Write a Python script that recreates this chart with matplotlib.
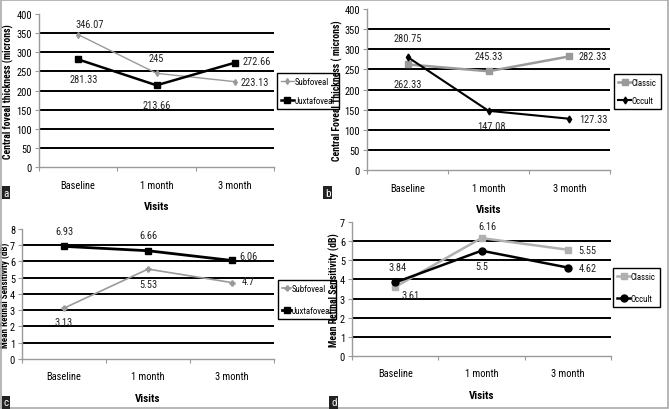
import matplotlib.pyplot as plt
from matplotlib import font_manager
from matplotlib.patches import Rectangle

# the reference uses an Arial Narrow-like face; take a narrow font (with a bold cut) if installed
fonts = font_manager.fontManager.ttflist
families = {}
for f in fonts:
    if 'Narrow' in f.name or 'Condensed' in f.name:
        families.setdefault(f.name, set()).add(str(f.weight))
preferred = ['Liberation Sans Narrow', 'Roboto Condensed', 'Open Sans Condensed', 'DejaVu Sans Condensed']
narrow = None
for name in preferred + sorted(families):
    w = families.get(name)
    if w and ('bold' in w or '700' in w):
        narrow = name
        break
if narrow is None and families:
    narrow = sorted(families)[0]

if narrow:
    plt.rcParams['font.family'] = [narrow, 'DejaVu Sans']
    FS, LFS, YFS = 7.5, 6.3, 7
else:
    plt.rcParams['font.family'] = ['Liberation Sans', 'DejaVu Sans']
    FS, LFS, YFS = 6.8, 5.4, 5.6

visits = ['Baseline', '1 month', '3 month']

# a: central foveal thickness, subfoveal vs juxtafoveal
a_sub = [346.07, 245, 223.13]
a_jux = [281.33, 213.66, 272.66]
# b: central foveal thickness, classic vs occult
b_classic = [262.33, 245.33, 282.33]
b_occult = [280.75, 147.08, 127.33]
# c: mean retinal sensitivity, subfoveal vs juxtafoveal
c_sub = [3.13, 5.53, 4.7]
c_jux = [6.93, 6.66, 6.06]
# d: mean retinal sensitivity, classic vs occult
d_classic = [3.61, 6.16, 5.55]
d_occult = [3.84, 5.5, 4.62]

GRAY = '#9a9a9a'

fig = plt.figure(figsize=(6.69, 4.10), dpi=100)


def setup(ax, ymax, step, ylabel, yfs=YFS, pad=2):
    ax.set_xlim(-0.5, 2.5)
    ax.set_ylim(0, ymax)
    ticks = list(range(0, ymax + 1, step))
    ax.set_yticks(ticks)
    for t in ticks[1:-1]:
        ax.axhline(t, color='black', lw=1.4, zorder=1)
    ax.set_xticks([-0.5, 0.5, 1.5, 2.5], minor=False)
    ax.set_xticklabels([])
    ax.set_xticks([0, 1, 2], minor=True)
    ax.set_xticklabels(visits, minor=True, fontsize=FS)
    ax.tick_params(axis='x', which='minor', length=0, pad=9)
    ax.tick_params(axis='x', which='major', length=3, color=GRAY)
    ax.tick_params(axis='y', labelsize=FS, length=3, color=GRAY, pad=2)
    for s in ['top', 'right']:
        ax.spines[s].set_visible(False)
    for s in ['left', 'bottom']:
        ax.spines[s].set_color(GRAY)
        ax.spines[s].set_linewidth(1.0)
    ax.set_xlabel('Visits', fontsize=FS + 0.5, fontweight='bold', labelpad=8)
    ax.set_ylabel(ylabel, fontsize=yfs, fontweight='bold', labelpad=pad)


def labels(ax, vals, offsets):
    for i, (v, (dx, dy)) in enumerate(zip(vals, offsets)):
        ax.annotate(f'{v:g}', (i, v), xytext=(dx, dy), textcoords='offset points',
                    ha='center', va='center', fontsize=FS, color='#222222')


def legend(ax, x, y, spacing, hl):
    ax.legend(loc='upper left', bbox_to_anchor=(x, y), bbox_transform=fig.transFigure,
              fontsize=LFS, fancybox=False, edgecolor='black', framealpha=1, handlelength=hl,
              borderpad=0.45, labelspacing=spacing, handletextpad=0.1, borderaxespad=0)


# panel a
ax = fig.add_axes([0.0583, 0.5902, 0.3513, 0.3732])
setup(ax, 400, 50, 'Central foveal thickness (microns)')
ax.plot(range(3), a_sub, color=GRAY, lw=1.0, marker='d', ms=3, label='Subfoveal', zorder=3)
ax.plot(range(3), a_jux, color='black', lw=1.8, marker='s', ms=4, label='Juxtafoveal', zorder=4)
labels(ax, a_sub, [(8, 8), (0, 11), (14, 0)])
labels(ax, a_jux, [(4, -14), (0, -14), (16, 1)])
legend(ax, 0.4140, 0.8195, 1.2, 1.5)

# panel b
ax = fig.add_axes([0.5486, 0.5829, 0.3632, 0.3927])
setup(ax, 400, 50, 'Central Foveal Thickness ( microns)', pad=1)
ax.plot(range(3), b_classic, color=GRAY, lw=1.8, marker='s', ms=4.5, label='Classic', zorder=3)
ax.plot(range(3), b_occult, color='black', lw=1.5, marker='d', ms=3.5, label='Occult', zorder=4)
labels(ax, b_classic, [(0, -14), (0, 11), (17, 0)])
labels(ax, b_occult, [(0, 14), (2, -11), (17, 0)])
legend(ax, 0.9178, 0.8171, 1.0, 1.5)

# panel c
ax = fig.add_axes([0.0329, 0.1220, 0.3767, 0.3171])
setup(ax, 8, 1, 'Mean Retinal Sensitivity (dB)', yfs=YFS - 0.5, pad=0)
ax.plot(range(3), c_sub, color=GRAY, lw=1.2, marker='P', ms=3.5, label='Subfoveal', zorder=3)
ax.plot(range(3), c_jux, color='black', lw=2.0, marker='s', ms=4.5, label='Juxtafoveal', zorder=4)
labels(ax, c_sub, [(0, -10), (0, -11), (12, 1)])
labels(ax, c_jux, [(0, 11), (0, 11), (12, 3)])
legend(ax, 0.4160, 0.3146, 1.5, 1.0)

# panel d
ax = fig.add_axes([0.5262, 0.1293, 0.3871, 0.3268])
setup(ax, 7, 1, 'Mean Retinal Sensitivity (dB)', pad=0)
ax.plot(range(3), d_classic, color='#b0b0b0', lw=1.8, marker='s', ms=4.5, label='Classic', zorder=3)
ax.plot(range(3), d_occult, color='black', lw=1.8, marker='o', ms=5, label='Occult', zorder=4)
labels(ax, d_classic, [(11, -6), (4, 9), (14, 0)])
labels(ax, d_occult, [(2, 11), (0, -11), (14, 0)])
legend(ax, 0.9163, 0.3439, 1.5, 1.5)

# panel letters
for letter, x, y in [('a', 0, 0.512), ('b', 0.481, 0.512), ('c', 0, 0.0), ('d', 0.490, 0.0)]:
    fig.text(x + 0.009, y + 0.016, letter, color='white', fontsize=8, ha='center', va='center',
             bbox=dict(boxstyle='square,pad=0.15', fc='#222222', ec='none'))

# outer frame
fig.add_artist(Rectangle((0.001, 0.002), 0.997, 0.995, transform=fig.transFigure,
                         fill=False, ec='#aaaaaa', lw=1.2))

fig.savefig('out.png', dpi=100)
